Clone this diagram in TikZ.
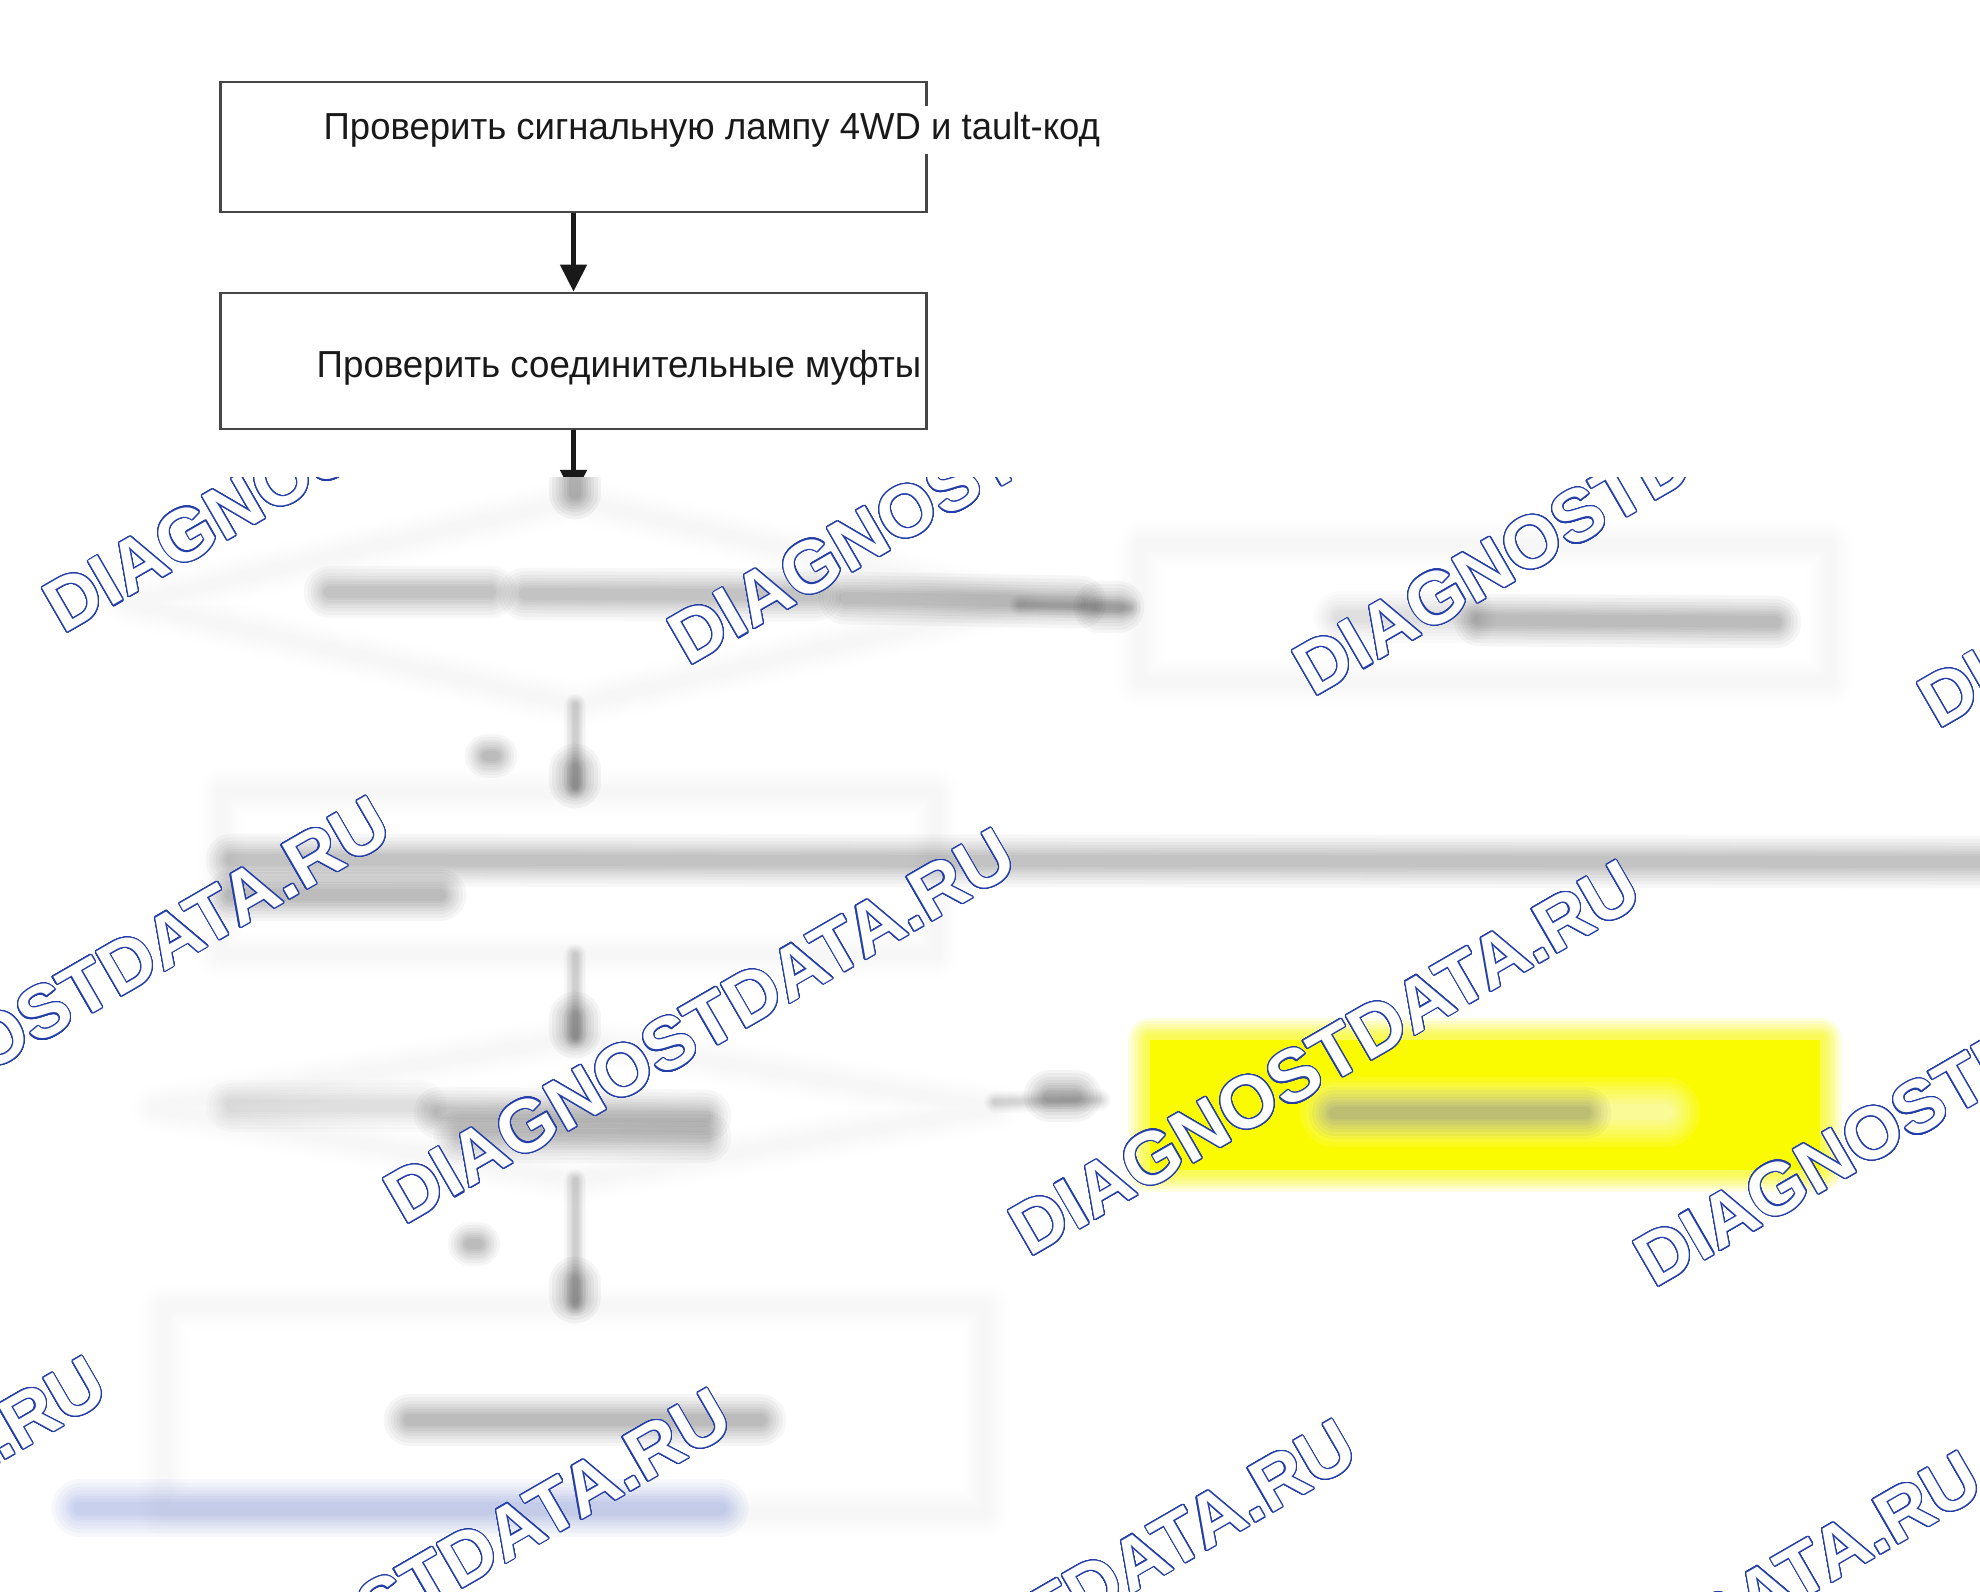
\documentclass[tikz,border=0pt]{standalone}
\usepackage{fontspec}
\setmainfont{Liberation Sans}
\usepackage{contour}
\usetikzlibrary{arrows.meta}
\definecolor{wmblue}{RGB}{35,62,168}
\definecolor{boxline}{RGB}{70,70,70}
\definecolor{linkblue}{RGB}{120,140,215}
\definecolor{hiyellow}{RGB}{250,250,0}
\contourlength{0.33pt}
\contournumber{32}
\newcommand\soft[4]{%
  \foreach \bw in {4.4,3.8,3.2,2.7,2.2,1.8,1.4,1.0}{%
    \pgfmathsetmacro\bop{0.12*#3}%
    \pgfmathsetmacro\blw{\bw*#1*0.2845}%
    \draw[line cap=round,line join=round,draw=#2,draw opacity=\bop,line width=\blw pt] #4;}}
\tikzset{
  clearbox/.style={draw=boxline, line width=0.75pt, inner sep=0pt, minimum width=7.05cm},
  flowtext/.style={font=\fontsize{10.7pt}{12pt}\selectfont, text=black!90, inner xsep=2pt, inner ysep=1.9pt},
  flowarrow/.style={draw=black!90, line width=1.3pt, -{Triangle[width=0.26cm,length=0.27cm]}},
  wmark/.style={font=\fontsize{21pt}{24pt}\selectfont\bfseries, text=white, rotate=30, anchor=base west, inner sep=0pt},
}
\begin{document}
\begin{tikzpicture}[x=0.01cm,y=-0.01cm]
\useasboundingbox (0,0) rectangle (1980,1592);
\clip (0,0) rectangle (1980,1592);
\fill[white] (0,0) rectangle (1980,1592);
% ---------- blurred lower part ----------
% diamond 1
\soft{11}{black}{0.035}{(575,500)--(1020,603)--(575,705)--(130,603)--cycle}
\soft{12}{black}{0.35}{(575,481)--(575,493)}
\soft{12}{black}{0.26}{(330,592)--(490,592)}
\soft{12}{black}{0.26}{(525,594)--(815,595)}
\soft{12}{black}{0.28}{(845,598)--(1080,602)}
% arrow to right box
\soft{5}{black}{0.15}{(1020,605)--(1130,608)}
\soft{12}{black}{0.3}{(1100,607)--(1118,607)}
% right box
\soft{11}{black}{0.035}{(1140,545) rectangle (1830,682)}
\soft{12}{black}{0.12}{(1340,617)--(1470,617)}
\soft{12}{black}{0.28}{(1480,620)--(1775,622)}
% label and arrow down
\soft{10}{black}{0.28}{(487,756)--(495,756)}
\soft{5}{black}{0.18}{(575,705)--(575,788)}
\soft{12}{black}{0.32}{(575,770)--(575,782)}
% middle box
\soft{11}{black}{0.035}{(221,792) rectangle (935,955)}
\soft{12}{black}{0.26}{(232,860)--(1990,862)}
\soft{12}{black}{0.28}{(232,895)--(440,895)}
% arrow down to diamond 2
\soft{5}{black}{0.18}{(575,955)--(575,1038)}
\soft{12}{black}{0.32}{(575,1018)--(575,1032)}
% diamond 2
\soft{11}{black}{0.035}{(575,1038)--(995,1108)--(575,1180)--(155,1108)--cycle}
\soft{12}{black}{0.12}{(232,1106)--(420,1106)}
\soft{12}{black}{0.26}{(440,1113)--(705,1116)}
\soft{12}{black}{0.24}{(460,1137)--(705,1137)}
% arrow to yellow box
\soft{5}{black}{0.15}{(995,1102)--(1100,1100)}
\soft{12}{black}{0.32}{(1050,1096)--(1075,1096)}
% yellow box
\fill[hiyellow] (1150,1040) rectangle (1820,1170);
\soft{10}{hiyellow}{1}{(1150,1040) rectangle (1820,1170)}
\soft{16}{white}{0.9}{(1335,1112)--(1665,1112)}
\soft{12}{black}{0.26}{(1335,1113)--(1585,1113)}
% label and arrow down
\soft{10}{black}{0.28}{(470,1244)--(478,1244)}
\soft{5}{black}{0.18}{(575,1180)--(575,1305)}
\soft{12}{black}{0.32}{(575,1283)--(575,1297)}
% bottom box
\soft{11}{black}{0.035}{(164,1307) rectangle (985,1513)}
\soft{12}{black}{0.3}{(410,1420)--(760,1420)}
% blue link
\soft{13}{linkblue}{0.5}{(80,1508)--(720,1508)}
% ---------- watermarks ----------
\node[wmark] (w1a) at (63,635) {\contour{wmblue}{DIAGNOSTDATA.RU}};
\node[wmark] (w1b) at (688,667) {\contour{wmblue}{DIAGNOSTDATA.RU}};
\node[wmark] (w1c) at (1313,698) {\contour{wmblue}{DIAGNOSTDATA.RU}};
\node[wmark] (w1d) at (1938,730) {\contour{wmblue}{DIAGNOSTDATA.RU}};
\node[wmark] (w2a) at (-221,1194) {\contour{wmblue}{DIAGNOSTDATA.RU}};
\node[wmark] (w2b) at (404,1226) {\contour{wmblue}{DIAGNOSTDATA.RU}};
\node[wmark] (w2c) at (1029,1258) {\contour{wmblue}{DIAGNOSTDATA.RU}};
\node[wmark] (w2d) at (1654,1289) {\contour{wmblue}{DIAGNOSTDATA.RU}};
\node[wmark] (w3a) at (-505,1754) {\contour{wmblue}{DIAGNOSTDATA.RU}};
\node[wmark] (w3b) at (120,1786) {\contour{wmblue}{DIAGNOSTDATA.RU}};
\node[wmark] (w3c) at (745,1817) {\contour{wmblue}{DIAGNOSTDATA.RU}};
\node[wmark] (w3d) at (1370,1849) {\contour{wmblue}{DIAGNOSTDATA.RU}};
% ---------- clear upper part ----------
\fill[white] (0,0) rectangle (1980,477);
\node[clearbox, minimum height=1.30cm] (b1) at (573.5,147) {};
\node[flowtext, fill=white, anchor=west] (t1) at (316,130) {\scalebox{0.97}[1]{Проверить сигнальную лампу 4WD и tault-код}};
\node[clearbox, minimum height=1.36cm] (b2) at (573.5,361) {};
\node[flowtext, anchor=west] (t2) at (309,368) {\scalebox{0.975}[1]{Проверить соединительные муфты}};
\coordinate (d1top) at (573.5,497);
\draw[flowarrow] (b1.south) -- (b2.north);
\begin{scope}
\clip (0,0) rectangle (1980,477);
\draw[flowarrow] (b2.south) -- (d1top);
\end{scope}
\end{tikzpicture}
\end{document}
